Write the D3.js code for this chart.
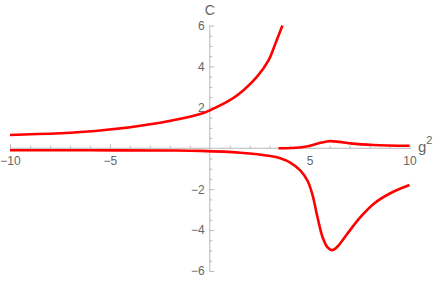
<!DOCTYPE html>
<html>
<head>
<meta charset="utf-8">
<script src="https://cdn.jsdelivr.net/npm/d3@7"></script>
<style>
  body { margin: 0; background: #fff; }
  svg { display: block; font-family: "Liberation Sans", Arial, sans-serif; }
</style>
</head>
<body>
<div id="app"></div>
<script>
const full = { width: 436, height: 281 };

// upper branch (left of the pole)
const branchA = [
  [-10, 0.645], [-5.73, 0.84], [-2.48, 1.25], [-0.48, 1.67], [0.11, 1.9],
  [1.03, 2.36], [1.69, 2.84], [2.36, 3.49], [2.95, 4.31], [3.3, 5.15],
  [3.64, 6.0]
];
// lower branch with the dip
const branchB = [
  [-10, -0.1], [-6, -0.1], [-2, -0.11], [-0.48, -0.13], [1.53, -0.22],
  [3.03, -0.38], [3.53, -0.49], [4.03, -0.7], [4.53, -1.08], [4.9, -1.6],
  [5.15, -2.3], [5.4, -3.4], [5.65, -4.35], [5.9, -4.85], [6.12, -4.98],
  [6.37, -4.83], [6.87, -4.2], [7.53, -3.38], [8.2, -2.72], [9.04, -2.2], [10, -1.8]
];
// small bump on the right
const branchC = [
  [3.44, 0.0], [4.5, 0.04], [5.03, 0.12], [5.6, 0.28], [6.03, 0.35],
  [6.5, 0.31], [7.03, 0.24], [8.2, 0.16], [10, 0.12]
];

const xMajor = [-10, -5, 5, 10];
const xMinor = d3.range(-10, 10.01, 1).filter(v => v % 5 !== 0);
const yMajor = [-6, -4, -2, 2, 4, 6];
const yMinor = d3.range(-6, 6.01, 0.5).filter(v => v % 2 !== 0);

const x = d3.scaleLinear().domain([-10, 10]).range([10, 409.5]);
const y = d3.scaleLinear().domain([-6, 6]).range([271, 25.5]);

const svg = d3.select("#app").append("svg")
  .attr("width", full.width)
  .attr("height", full.height);

const axisColor = "#b8b8b8";
const labelColor = "#666";
const fmt = v => (v < 0 ? "\u2212" + Math.abs(v) : String(v));

// x axis
const gx = svg.append("g").attr("transform", `translate(0,${y(0)})`);
gx.append("line")
  .attr("x1", x(-10)).attr("x2", x(10) + 1)
  .attr("stroke", axisColor);
gx.call(g => g.append("g").call(d3.axisBottom(x).tickValues(xMajor).tickSize(-4).tickPadding(8.5).tickFormat(fmt)));
gx.call(g => g.append("g").call(d3.axisBottom(x).tickValues(xMinor).tickSize(-2.5).tickFormat("")));

// y axis
const gy = svg.append("g").attr("transform", `translate(${x(0)},0)`);
gy.append("line")
  .attr("y1", y(6)).attr("y2", y(-6))
  .attr("stroke", axisColor);
gy.call(g => g.append("g").call(d3.axisLeft(y).tickValues(yMajor).tickSize(-4.5).tickPadding(5).tickFormat(fmt)));
gy.call(g => g.append("g").call(d3.axisLeft(y).tickValues(yMinor).tickSize(-2.5).tickFormat("")));

svg.selectAll(".domain").remove();
svg.selectAll(".tick line").attr("stroke", axisColor);
svg.selectAll(".tick text").attr("fill", labelColor).style("font-size", "12px");

// axis labels
svg.append("text")
  .attr("x", x(0)).attr("y", 15)
  .attr("text-anchor", "middle")
  .attr("fill", labelColor)
  .style("font-size", "14px")
  .text("C");

const gl = svg.append("text")
  .attr("x", 418).attr("y", 152)
  .attr("fill", labelColor)
  .style("font-size", "15px");
gl.append("tspan").text("g");
gl.append("tspan").attr("dy", -8).style("font-size", "11px").text("2");

// curves
const line = d3.line()
  .x(d => x(d[0]))
  .y(d => y(d[1]))
  .curve(d3.curveCatmullRom.alpha(0.5));

svg.selectAll(".branch")
  .data([branchA, branchB, branchC])
  .join("path")
  .attr("class", "branch")
  .attr("fill", "none")
  .attr("stroke", "#ff0000")
  .attr("stroke-width", 2.6)
  .attr("stroke-linejoin", "round")
  .attr("d", line);
</script>
</body>
</html>
